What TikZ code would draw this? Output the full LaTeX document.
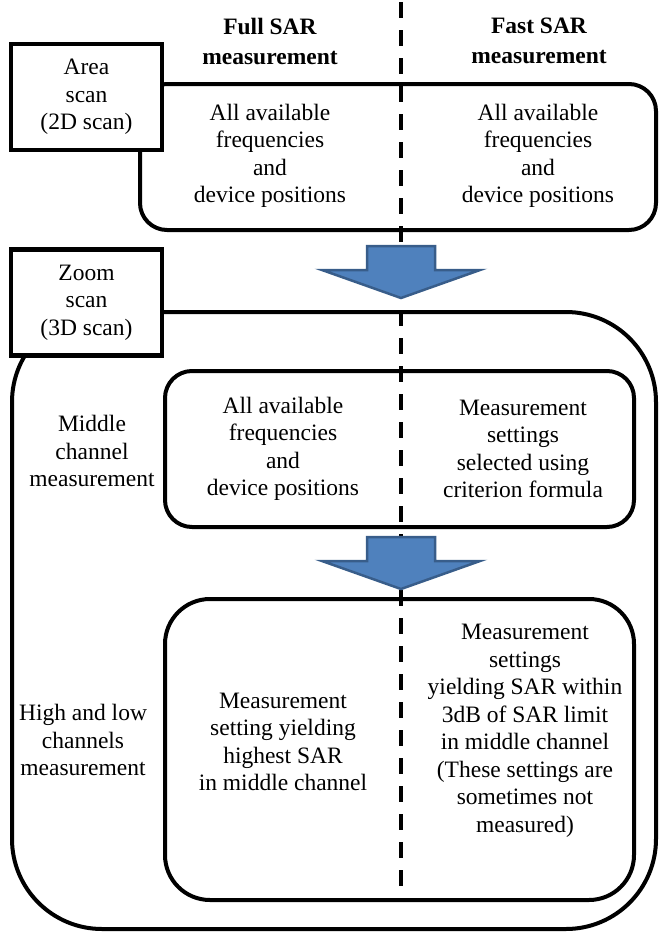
\documentclass[tikz,border=0pt]{standalone}
\usepackage{fontspec}
\setmainfont{LiberationSerif}[Extension=.ttf, UprightFont=*-Regular, BoldFont=*-Bold]
\usetikzlibrary{positioning,calc}

\definecolor{arrowblue}{HTML}{4F81BD}
\definecolor{arrowedge}{HTML}{385D8A}

\begin{document}
\begin{tikzpicture}[
    x=1pt, y=-1pt,
    every node/.style={font=\fontsize{23.5}{27.5}\selectfont, align=center},
    scanbox/.style={rectangle, draw=black, line width=4.5pt, fill=white, minimum width=151pt, minimum height=106pt},
    roundbox/.style={rectangle, draw=black, line width=4pt, rounded corners=#1},
    heading/.style={font=\fontsize{23.5}{30}\selectfont\bfseries},
    divider/.style={line width=4pt, dash pattern=on 15.5pt off 12.5pt},
    bigarrow/.style={fill=arrowblue, draw=arrowedge, line width=2.5pt, line join=miter}
]
    \useasboundingbox (0,0) rectangle (659,935);

    % outer zoom-scan frame and area-scan box
    \draw[roundbox=90pt] (12,312) rectangle (656,929);
    \draw[roundbox=27pt] (140,84) rectangle (656,230);
    \node[scanbox] (area) at (86.5,97) {Area\\scan\\(2D scan)};
    \node[scanbox] (zoom) at (86.5,302.5) {Zoom\\scan\\(3D scan)};

    % inner boxes
    \draw[roundbox=27pt] (165,371) rectangle (634,527);
    \draw[roundbox=45pt] (165,599) rectangle (634,900);

    % column headings
    \node[heading] (full) at (270,41) {Full SAR\\measurement};
    \node[heading] (fast) at (539,41) {Fast SAR\\measurement};

    % divider between the two columns
    \coordinate (divtop) at (401,2);
    \coordinate (divbot) at (401,886);
    \draw[divider] (divtop) -- (divbot);

    % block arrows
    \coordinate (arr1) at (401,246);
    \coordinate (arr2) at (401,537);
    \foreach \a in {arr1,arr2}
        \draw[bigarrow] ($(\a)+(-34,0)$) -- ++(68,0) -- ++(0,24) -- ++(45,0)
            -- ($(\a)+(0,52)$) -- ($(\a)+(-79,24)$) -- ++(45,0) -- cycle;

    % texts
    \node (areafull) at (270,156) {All available\\frequencies\\and\\device positions};
    \node (areafast) at (538,156) {All available\\frequencies\\and\\device positions};
    \node (midlabel) at (92,451) {Middle\\channel\\measurement};
    \node (midfull) at (283,449) {All available\\frequencies\\and\\device positions};
    \node (midfast) at (523,449) {Measurement\\settings\\selected using\\criterion formula};
    \node (hilabel) at (83,740) {High and low\\channels\\measurement};
    \node (hifull) at (283,742) {Measurement\\setting yielding\\highest SAR\\in middle channel};
    \node (hifast) at (525,731) {Measurement\\settings\\yielding SAR within\\3dB of SAR limit\\in middle channel\\(These settings are\\sometimes not\\measured)};
\end{tikzpicture}
\end{document}
